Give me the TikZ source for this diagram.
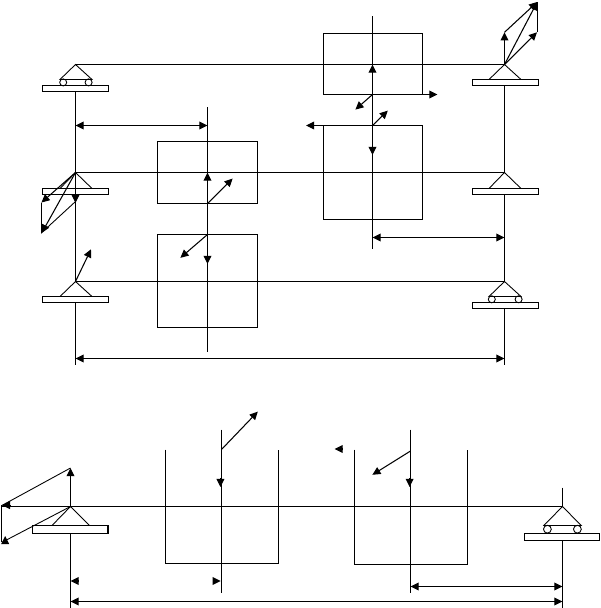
\documentclass[tikz,border=0pt]{standalone}
\usepackage{amsmath}
\usetikzlibrary{arrows.meta}
\tikzset{
	bar/.style={black,line width=0.6pt},
	thin bar/.style={black,line width=0.5pt},
	force/.style={bar,-{Triangle[length=4.6pt,width=4.4pt]}},
	span/.style={bar,{Triangle[length=4.6pt,width=4.4pt]}-{Triangle[length=4.6pt,width=4.4pt]}},
}
\begin{document}
\begin{tikzpicture}[x=0.02cm,y=0.02cm]
	\useasboundingbox (0,0) rectangle (600,-608);
	\draw [bar] (75.5,-64.5) -- (504.5,-64.5);
	\draw [bar] (75.5,-172.5) -- (504.5,-172.5);
	\draw [bar] (75.5,-281.5) -- (504.5,-281.5);
	\draw [bar] (75.5,-92) -- (75.5,-172.5);
	\draw [bar] (75.5,-194.5) -- (75.5,-281.5);
	\draw [bar] (75.5,-302.5) -- (75.5,-364.5);
	\draw [bar] (504.5,-85.5) -- (504.5,-172.5);
	\draw [bar] (504.5,-194.5) -- (504.5,-281.5);
	\draw [bar] (504.5,-308.5) -- (504.5,-364.5);
	\draw [bar] (207.5,-107) -- (207.5,-351.5);
	\draw [bar] (372.5,-16.5) -- (372.5,-249);
	\draw [thin bar] (60,-79.5) -- (75.5,-64.5) -- (92,-79.5) -- cycle;
	\draw [bar] (42.5,-85.5) rectangle (108.5,-91.5);
	\draw [thin bar] (63.2,-82.4) circle (3.5);
	\draw [thin bar] (88.6,-82.4) circle (3.5);
	\draw [thin bar] (60,-188.5) -- (75.5,-172.5) -- (92,-188.5);
	\draw [bar] (42.5,-188.5) rectangle (108.5,-194.5);
	\draw [thin bar] (60,-296.5) -- (75.5,-281.5) -- (92,-296.5);
	\draw [bar] (42.5,-296.5) rectangle (108.5,-302.5);
	\draw [thin bar] (489,-79.5) -- (504.5,-64.5) -- (521,-79.5);
	\draw [bar] (472.5,-79.5) rectangle (538.5,-85.5);
	\draw [thin bar] (489,-188.5) -- (504.5,-172.5) -- (521,-188.5);
	\draw [bar] (472.5,-188.5) rectangle (538.5,-194.5);
	\draw [thin bar] (489,-296.5) -- (504.5,-281.5) -- (521,-296.5) -- cycle;
	\draw [bar] (472.5,-302.5) rectangle (538.5,-308.5);
	\draw [thin bar] (491.8,-299.3) circle (3.5);
	\draw [thin bar] (518.6,-299.3) circle (3.5);
	\draw [bar] (157.5,-141.5) rectangle (257.5,-203.5);
	\draw [bar] (157.5,-234.5) rectangle (257.5,-327.5);
	\draw [bar] (323.5,-33.5) rectangle (422.5,-94.5);
	\draw [bar] (323.5,-125.5) rectangle (422.5,-219.5);
	\draw [span] (75.5,-125.5) -- (207.5,-125.5);
	\draw [span] (372.5,-237.5) -- (504.5,-237.5);
	\draw [span] (75.5,-358.5) -- (504.5,-358.5);
	\draw [force] (75.5,-172.5) -- (41.5,-202.5);
	\draw [force] (75.5,-172.5) -- (41.8,-232.8);
	\draw [force] (75.5,-172.5) -- (75.5,-203);
	\draw [thin bar] (41.5,-202.5) -- (41.5,-232.8) -- (75,-202);
	\draw [force] (75.5,-281.5) -- (91,-249.3);
	\draw [force] (207.5,-203.5) -- (207.5,-172.5);
	\draw [force] (207.5,-203.5) -- (232.6,-178.6);
	\draw [force] (207.5,-234.5) -- (180.4,-257.8);
	\draw [force] (207.5,-234.5) -- (207.5,-264);
	\draw [force] (372.5,-94.5) -- (372.5,-64.5);
	\draw [force] (422.5,-94.5) -- (437.5,-94.5);
	\draw [force] (372.5,-94.5) -- (355.4,-109.6);
	\draw [force] (372.5,-125.5) -- (387.8,-110.6);
	\draw [force] (372.5,-125.5) -- (372.5,-155);
	\draw [force] (323.5,-125.5) -- (306,-125.5);
	\draw [force] (504.5,-64.5) -- (504.5,-32.3);
	\draw [force] (504.5,-64.5) -- (537,-32.3);
	\draw [force] (504.5,-64.5) -- (537.2,-2);
	\draw [force] (504.5,-32.3) -- (537.2,-2);
	\draw [thin bar] (537.5,-32.3) -- (537.5,-2);
	\draw [bar] (1.5,-506.5) -- (562.5,-506.5);
	\draw [bar] (70.5,-533.5) -- (70.5,-607.5);
	\draw [bar] (562.5,-540.5) -- (562.5,-607.5);
	\draw [bar] (562.5,-487.5) -- (562.5,-506.5);
	\draw [bar] (221.5,-429.5) -- (221.5,-592.5);
	\draw [bar] (410.5,-429.5) -- (410.5,-592.5);
	\draw [bar] (165.5,-449.5) -- (165.5,-563.5) -- (278.5,-563.5) -- (278.5,-449.5);
	\draw [bar] (354.5,-449.5) -- (354.5,-564.5) -- (467.5,-564.5) -- (467.5,-449.5);
	\draw [thin bar] (52,-525.5) -- (70.5,-506.5) -- (89.4,-525.5);
	\draw [bar] (32.5,-525.5) rectangle (108,-533.5);
	\draw [thin bar] (543.8,-525.5) -- (562.5,-506.5) -- (581.2,-525.5) -- cycle;
	\draw [thin bar] (547.4,-529.2) circle (3.9);
	\draw [thin bar] (577.4,-529.2) circle (3.9);
	\draw [bar] (524.5,-533.5) rectangle (599.5,-540.5);
	\draw [force] (70.5,-506.5) -- (70.5,-468);
	\draw [thin bar] (70.5,-468) -- (2,-505.4);
	\draw [force] (10,-505.2) -- (2,-505.2);
	\draw [thin bar] (1.5,-505.4) -- (1.5,-542.3);
	\draw [thin bar] (70.5,-506.5) -- (2,-542.3);
	\draw [force] (5.2,-543) -- (5.2,-536);
	\draw [force] (221.5,-449.5) -- (257.8,-411.6);
	\draw [force] (220.4,-478) -- (220.4,-487);
	\draw [bar] (221.5,-449.5) -- (221.5,-478);
	\draw [force] (410.5,-451) -- (372.4,-474.8);
	\draw [force] (409.6,-478) -- (409.6,-487);
	\draw [force] (342,-449) -- (334.6,-449);
	\draw [force] (78,-581) -- (70.6,-581);
	\draw [force] (213,-581) -- (220.6,-581);
	\draw [span] (410.5,-586.5) -- (562.5,-586.5);
	\draw [span] (70.5,-601.5) -- (562.5,-601.5);
\end{tikzpicture}
\end{document}
